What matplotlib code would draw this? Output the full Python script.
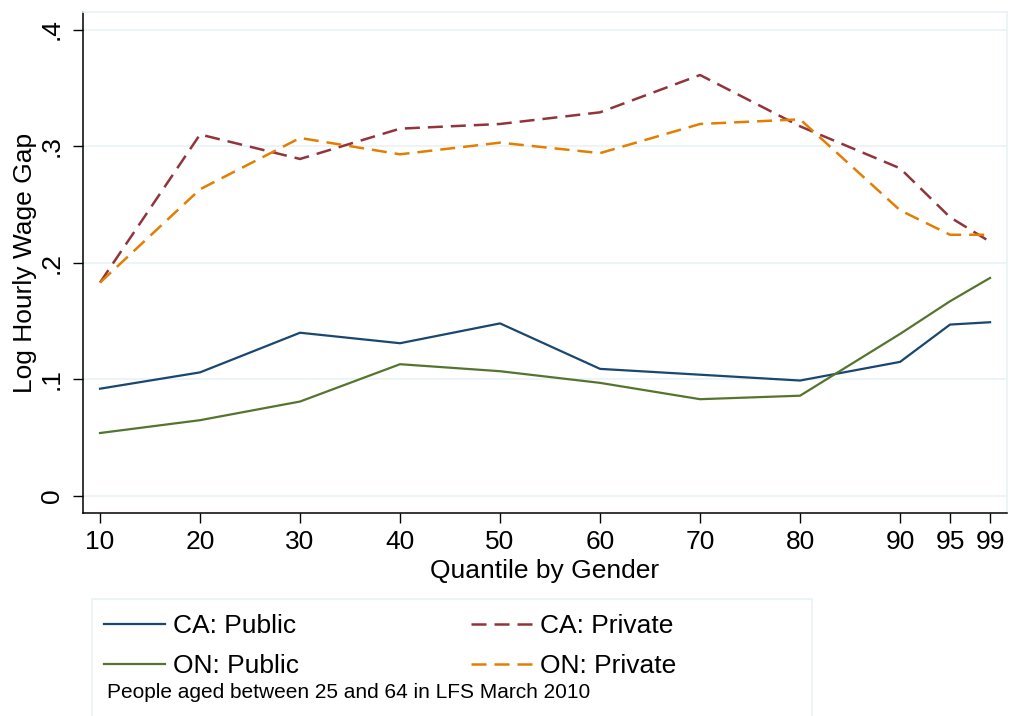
import matplotlib.pyplot as plt
from matplotlib.patches import Rectangle

plt.rcParams['font.family'] = ['Liberation Sans', 'DejaVu Sans']

# Quantiles and log hourly wage gaps (men vs women)
quantiles = [10, 20, 30, 40, 50, 60, 70, 80, 90, 95, 99]
ca_public = [0.092, 0.106, 0.140, 0.131, 0.148, 0.109, 0.104, 0.099, 0.115, 0.147, 0.149]
ca_private = [0.183, 0.310, 0.289, 0.315, 0.319, 0.329, 0.361, 0.317, 0.281, 0.239, 0.218]
on_public = [0.054, 0.065, 0.081, 0.113, 0.107, 0.097, 0.083, 0.086, 0.139, 0.167, 0.187]
on_private = [0.183, 0.263, 0.307, 0.293, 0.303, 0.294, 0.319, 0.323, 0.245, 0.224, 0.224]

yticks = [0, 0.1, 0.2, 0.3, 0.4]
ytick_labels = ['0', '.1', '.2', '.3', '.4']

navy = '#1a476f'
maroon = '#90353b'
green = '#55752f'
orange = '#e37e00'
grid_col = '#eaf2f3'

fig = plt.figure(figsize=(10.1, 7.16), dpi=100)
ax = fig.add_axes([0.0822, 0.2835, 0.9149, 0.6997])

dash = (0, (6, 3.2))
ax.plot(quantiles, ca_public, color=navy, lw=1.6, label='CA: Public')
ax.plot(quantiles, ca_private, color=maroon, lw=1.8, ls=dash, label='CA: Private')
ax.plot(quantiles, on_public, color=green, lw=1.6, label='ON: Public')
ax.plot(quantiles, on_private, color=orange, lw=1.8, ls=dash, label='ON: Private')

ax.set_xlim(8.3, 100.7)
ax.set_ylim(-0.0146, 0.415)
ax.set_xticks(quantiles)
ax.set_xticklabels([str(q) for q in quantiles], fontsize=19)
ax.set_yticks(yticks)
ax.set_yticklabels(ytick_labels, fontsize=19, rotation=90, va='center')
ax.tick_params(axis='both', direction='out', length=7, width=1, color='black')
ax.tick_params(axis='y', pad=7)
ax.tick_params(axis='x', pad=5)

ax.grid(axis='y', color=grid_col, lw=1.2)
ax.set_axisbelow(True)
for side in ['left', 'bottom']:
    ax.spines[side].set_color('black')
    ax.spines[side].set_linewidth(1.1)
for side in ['top', 'right']:
    ax.spines[side].set_color(grid_col)
    ax.spines[side].set_linewidth(1.2)

ax.set_xlabel('Quantile by Gender', fontsize=19, labelpad=4)
ax.set_ylabel('Log Hourly Wage Gap', fontsize=19, labelpad=2)

# legend box with the note underneath
box = Rectangle((92 / 1010, -0.01), (812 - 92) / 1010, (716 - 599) / 716 + 0.01,
                transform=fig.transFigure, facecolor='white', edgecolor=grid_col, lw=1.2)
fig.patches.append(box)

handles, labels = ax.get_legend_handles_labels()
order = [0, 2, 1, 3]
fig.legend([handles[i] for i in order], [labels[i] for i in order],
           loc='upper left', bbox_to_anchor=(104 / 1010, 1 - 614 / 716),
           ncol=2, frameon=False, fontsize=19, handlelength=2.3,
           handletextpad=0.3, columnspacing=6.55, labelspacing=0.6,
           borderpad=0, borderaxespad=0)

fig.text(107 / 1010, 1 - 692 / 716, 'People aged between 25 and 64 in LFS March 2010',
         fontsize=15, va='center', ha='left')

fig.savefig('out.png', dpi=100)
